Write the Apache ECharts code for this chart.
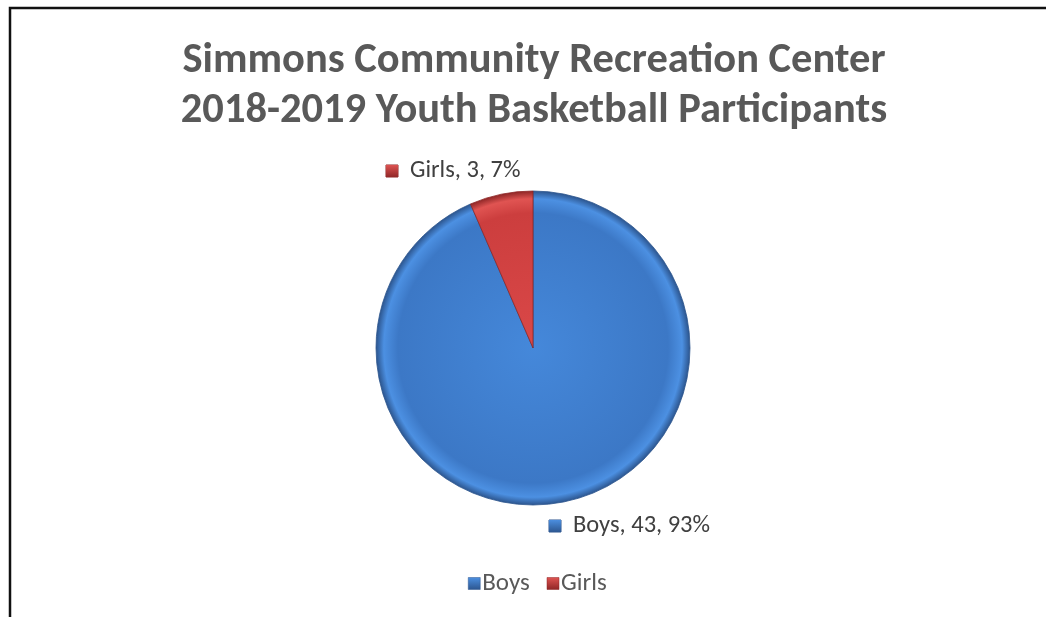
<!DOCTYPE html>
<html><head><meta charset="utf-8">
<script src="https://cdn.jsdelivr.net/npm/echarts@6/dist/echarts.min.js"></script>
<style>html,body{margin:0;padding:0;background:#fff}#c{width:1046px;height:617px}</style>
</head><body><div id="c"></div>
<script>
const titleLines = ['Simmons Community Recreation Center', '2018-2019 Youth Basketball Participants'];
const categories = ['Boys', 'Girls'];
const values = [43, 3];
const baseColors = ['#4588DA', '#DA4848'];
const midColors = ['#3C78C6', '#CC3E3E'];
const lightColors = ['#4C90E2', '#E05452'];
const rimColors = ['#2C558E', '#8E2626'];

const CX = 533, CY = 348, R = 157;

function fill(i) {
  return {
    type: 'radial', x: CX, y: CY, r: R, global: true,
    colorStops: [
      {offset: 0, color: baseColors[i]},
      {offset: 0.86, color: midColors[i]},
      {offset: 0.95, color: lightColors[i]},
      {offset: 1, color: rimColors[i]}
    ]
  };
}
function keyFill(i) {
  return {type: 'linear', x: 0, y: 0, x2: 0, y2: 1,
    colorStops: [{offset: 0, color: lightColors[i]}, {offset: 1, color: rimColors[i]}]};
}

const chart = echarts.init(document.getElementById('c'), null, {renderer: 'canvas'});
const font = "Carlito, Calibri, Lato, 'Open Sans', sans-serif";
chart.setOption({
  animation: false,
  backgroundColor: '#fff',
  title: {
    text: titleLines.join('\n'),
    left: 529, top: 31, textAlign: 'center',
    textStyle: {fontFamily: font, fontWeight: 'bold', fontSize: 42.5, lineHeight: 50, color: '#595959'}
  },
  legend: {
    top: 566, left: 463,
    itemWidth: 12, itemHeight: 12, itemGap: 17,
    icon: 'rect',
    textStyle: {fontFamily: font, fontSize: 25, color: '#595959', padding: [0, 0, 0, -3]},
    data: categories.map((c, i) => ({name: c, itemStyle: {color: keyFill(i), borderColor: rimColors[i], borderWidth: 0.5}}))
  },
  graphic: [{
    type: 'rect', silent: true,
    shape: {x: 10, y: 8, width: 1200, height: 800},
    style: {fill: 'none', stroke: '#111', lineWidth: 2.5}
  }],
  series: [{
    type: 'pie',
    center: [CX, CY],
    radius: [0, R],
    startAngle: 90,
    clockwise: true,
    percentPrecision: 0,
    data: categories.map((c, i) => ({
      name: c, value: values[i],
      itemStyle: {color: fill(i), borderColor: rimColors[i], borderWidth: 0.8}
    })),
    label: {
      show: true,
      position: 'outside',
      formatter: function (p) { return '{k' + p.dataIndex + '|}{s|}{t|' + p.name + ', ' + p.value + ', ' + p.percent + '%}'; },
      fontFamily: font, fontSize: 24, color: '#404040',
      rich: {
        k0: {width: 12, height: 12, backgroundColor: keyFill(0), borderColor: rimColors[0], borderWidth: 0.5},
        k1: {width: 12, height: 12, backgroundColor: keyFill(1), borderColor: rimColors[1], borderWidth: 0.5},
        s: {width: 12},
        t: {fontFamily: font, fontSize: 24.5, color: '#404040'}
      }
    },
    labelLine: {show: false},
    labelLayout: function (p) {
      if (p.dataIndex === 1) return {x: 386, y: 171, align: 'left', verticalAlign: 'middle'};
      return {x: 549, y: 526, align: 'left', verticalAlign: 'middle'};
    },
    emphasis: {disabled: true}
  }]
});
</script></body></html>
